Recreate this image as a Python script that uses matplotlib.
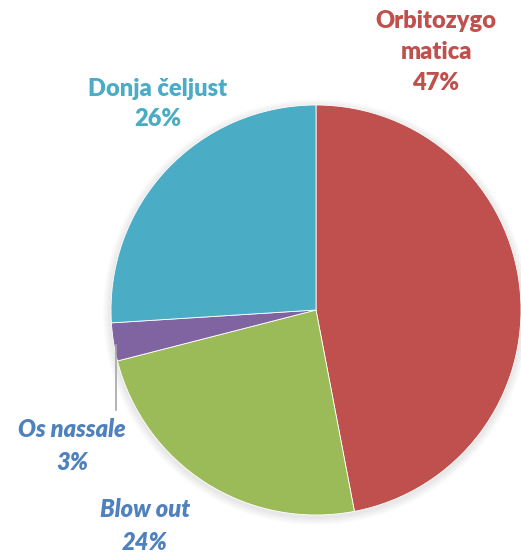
import numpy as np
import matplotlib.pyplot as plt
from matplotlib.patches import Circle

plt.rcParams['font.family'] = ['Lato', 'DejaVu Sans']

# podaci
kategorije = ['Orbitozygo\nmatica', 'Blow out', 'Os nassale', 'Donja čeljust']
postotci = [47, 24, 3, 26]
boje = ['#C0504D', '#9BBB59', '#8064A2', '#4BACC6']
boje_teksta = ['#C0504D', '#4F81BD', '#4F81BD', '#4BACC6']
kurziv = [False, True, True, False]

W, H = 521, 555
fig = plt.figure(figsize=(W / 100, H / 100), dpi=100)
ax = fig.add_axes([0, 0, 1, 1])
ax.set_xlim(0, W)
ax.set_ylim(0, H)
ax.set_aspect('equal')
ax.axis('off')

cx, cy, r = 316, H - 310, 205

# blaga sjena oko grafikona
for i in range(8):
    ax.add_patch(Circle((cx, cy - 2), r + 1 + i, color='black', alpha=0.012, lw=0, zorder=0))

ax.pie(postotci, colors=boje, startangle=90, counterclock=False,
       center=(cx, cy), radius=r, frame=True,
       wedgeprops=dict(linewidth=0.6, edgecolor='white'))
ax.set_xlim(0, W)
ax.set_ylim(0, H)
ax.axis('off')

# pozicije oznaka (u pikselima)
poz = [(436, 52), (145, 526), (72, 446), (158, 104)]
for naziv, p, b, k, (px, py) in zip(kategorije, postotci, boje_teksta, kurziv, poz):
    ax.text(px, H - py, f'{naziv}\n{p}%', ha='center', va='center', color=b,
            fontsize=17, fontweight='heavy', fontstyle='italic' if k else 'normal',
            linespacing=1.5)

# linija do malog isječka
ax.plot([116, 116], [H - 345, H - 410], color='#A6A6A6', lw=1.2)

fig.savefig('out.png', dpi=100)
